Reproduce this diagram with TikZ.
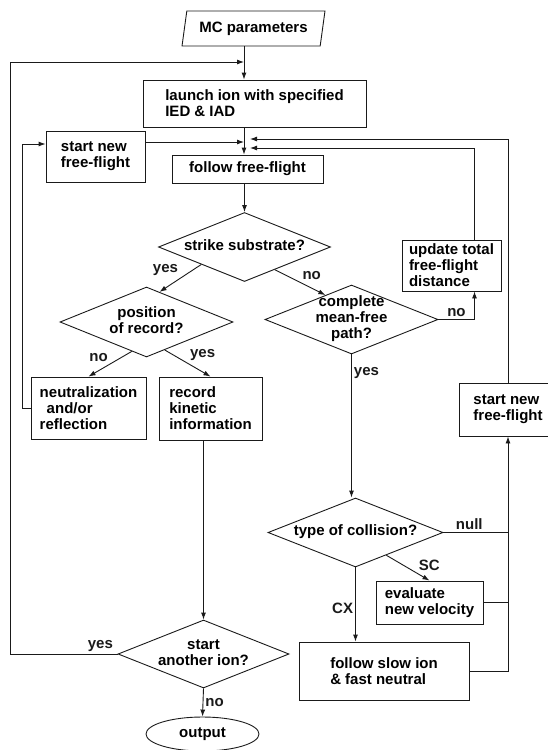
\documentclass[tikz,border=0pt]{standalone}
\usepackage{fontspec}
\setmainfont{Liberation Sans}
\usepackage{tikz}
\usetikzlibrary{calc,arrows.meta,positioning,shapes.geometric}
\definecolor{inkx}{HTML}{1A1A1A}
\newcommand{\dtxt}[1]{\makebox[0pt]{\begin{tabular}{@{}c@{}}#1\end{tabular}}}
\tikzset{
  ar/.style={-{Latex[length=7pt,width=5pt]},line width=0.9pt,inkx},
  ln/.style={line width=0.9pt,inkx},
  box/.style={draw=inkx,line width=0.9pt,align=left,inner sep=0pt},
  dec/.style={diamond,draw=inkx,line width=0.9pt,inner sep=0pt},
  io/.style={trapezium,trapezium left angle=74,trapezium right angle=106,trapezium stretches=true,draw=inkx,line width=0.9pt,inner sep=0pt},
  term/.style={ellipse,draw=inkx,line width=0.9pt,inner sep=0pt},
  lbl/.style={inner sep=2pt}
}

\begin{document}
\begin{tikzpicture}[x=1pt,y=-1pt,font=\fontsize{15}{16}\selectfont\bfseries]
\useasboundingbox (0,0) rectangle (548,750);
% blocks
\node[io,minimum width=143,minimum height=35] (params) at (253.5,28.5) {MC parameters};
\node[box,minimum width=223,minimum height=47] (launch) at (254.5,103.5) {launch ion with specified\\IED \& IAD};
\node[box,minimum width=99,minimum height=51] (startL) at (95.5,156.5) {start new\\free-flight};
\node[box,minimum width=151,minimum height=28] (follow) at (247.5,169) {follow free-flight};
\node[dec,minimum width=172,minimum height=69] (strike) at (244.5,247) {\dtxt{strike substrate?}};
\node[dec,minimum width=173,minimum height=70] (position) at (146.5,322) {\dtxt{position\\of record?}};
\node[dec,minimum width=173,minimum height=69] (complete) at (351.5,319.5) {\dtxt{complete\\mean-free\\path?}};
\node[box,minimum width=99,minimum height=51] (update) at (451.5,265.5) {update total\\free-flight\\distance};
\node[box,minimum width=115,minimum height=62] (neutral) at (88.5,408) {neutralization\\\hspace*{7pt}and/or\\reflection};
\node[box,minimum width=103,minimum height=63] (record) at (210.5,408.5) {record\\kinetic\\information};
\node[box,minimum width=98,minimum height=53] (startR) at (508,409.5) {start new\\free-flight};
\node[dec,minimum width=175,minimum height=69] (type) at (355.5,532.5) {\dtxt{type of collision?}};
\node[box,minimum width=107,minimum height=43] (evaluate) at (429.5,602.5) {evaluate\\new velocity};
\node[box,minimum width=170,minimum height=58] (slow) at (384,671) {follow slow ion\\\& fast neutral};
\node[dec,minimum width=171,minimum height=68] (another) at (203.5,654) {\dtxt{start\\another ion?}};
\node[term,minimum width=113,minimum height=34] (output) at (202.5,734) {output};
% junctions
\coordinate (sp) at (244,0);
\coordinate (jtop) at (244,62);
\coordinate (jl) at (244,142);
\coordinate (jo) at (250,139);
\coordinate (ji) at (250,148);
\coordinate (lout) at (10,62);
\coordinate (lin) at (22,144);
% main line
\draw[ar] (params.south -| sp) -- (launch.north -| sp);
\draw[ar] (launch.south -| sp) -- (follow.north -| sp);
\draw[ar] (strike.north |- follow.south) -- (strike.north);
\draw[ar] (strike.south west) -- node[lbl,above left]{yes} ($(position.north)!0.15!(position.east)$);
\draw[ar] ($(strike.south)!0.35!(strike.east)$) -- node[lbl,above right]{no} ($(complete.north)!0.3!(complete.west)$);
\draw[ar] ($(position.south)!0.17!(position.west)$) -- node[lbl,above left]{no} (neutral.north);
\draw[ar] ($(position.south)!0.21!(position.east)$) -- node[lbl,above right]{yes} (record.north);
\draw[ar] (complete.east) -| node[lbl,pos=0.25,above]{no} ([xshift=23pt]update.south);
\draw[ar] (complete.south) -- node[lbl,pos=0.13,right]{yes} (complete.south |- type.north);
% loops back
\draw[ar] ([xshift=23pt]update.north) |- (ji);
\draw[ar] (startR.north) |- (jo);
\draw[ar] (startL.east |- jl) -- (jl);
\draw[ar] (neutral.west) -| (lin) -- (lin -| startL.west);
% collisions
\draw[ln] (type.east) -- node[lbl,pos=0.4,above]{null} (type.east -| startR.north);
\draw[ar] ($(type.south)!0.35!(type.east)$) -- node[lbl,pos=0.7,above right]{SC} (evaluate.north);
\draw[ln] (evaluate.east) -- (evaluate.east -| startR.north);
\draw[ar] (type.south) -- node[lbl,pos=0.55,left]{CX} (type.south |- slow.north);
\draw[ar] (slow.east) -| (startR.south);
% end of ion
\draw[ar] (another.north |- record.south) -- (another.north);
\draw[ar] (another.west) -| node[lbl,pos=0.08,above]{yes} (lout) -- (jtop);
\draw[ar] (another.south) -- node[lbl,right]{no} (output.north);
\end{tikzpicture}
\end{document}
